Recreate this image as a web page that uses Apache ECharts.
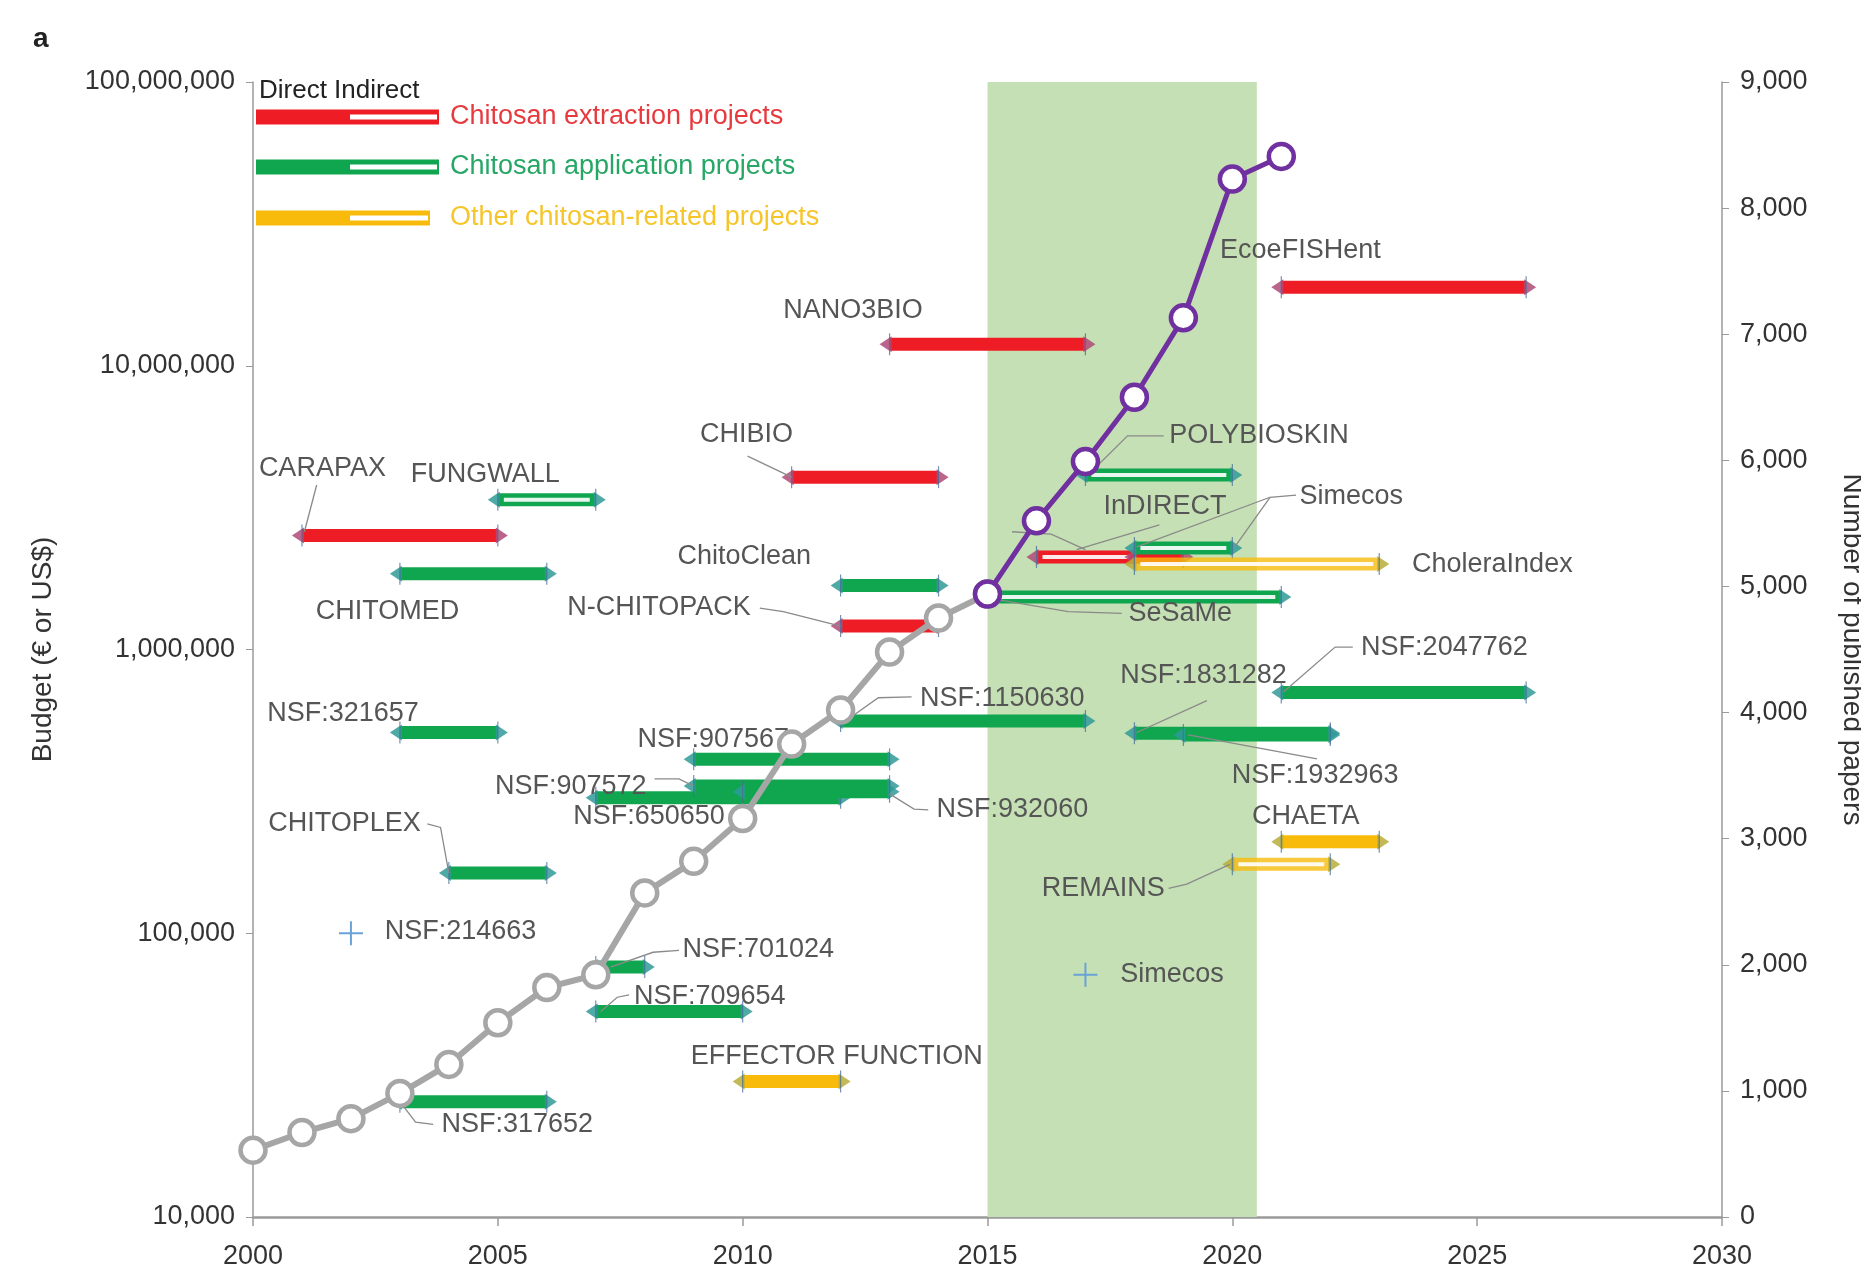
<!DOCTYPE html>
<html><head><meta charset="utf-8">
<script src="https://cdn.jsdelivr.net/npm/echarts@6/dist/echarts.min.js"></script>
<style>html,body{margin:0;padding:0;background:#fff}#c{width:1861px;height:1264px}</style>
</head><body><div id="c"></div>
<script>
// ---------------- DATA ----------------
const years = [2000,2001,2002,2003,2004,2005,2006,2007,2008,2009,2010,2011,2012,2013,2014,2015,2016,2017,2018,2019,2020,2021];
const papers = [530,670,780,980,1210,1540,1820,1920,2570,2820,3160,3750,4020,4480,4750,4940,5520,5990,6500,7130,8230,8410];
const highlightYear = 2015; // purple segment starts here
const highlightPeriod = [2015, 2020.5];

const categoryNames = ['Chitosan extraction projects','Chitosan application projects','Other chitosan-related projects'];

const projectNames    = ['CARAPAX','FUNGWALL','CHITOMED','NSF:321657','CHITOPLEX','NSF:317652','NSF:701024','NSF:709654','EFFECTOR FUNCTION','NSF:907567','NSF:650650','NSF:907572','NSF:932060','NSF:1150630','ChitoClean','N-CHITOPACK','CHIBIO','NANO3BIO','EcoeFISHent','POLYBIOSKIN','SeSaMe','InDIRECT','Simecos','Simecos','CholeraIndex','NSF:2047762','NSF:1831282','NSF:1932963','CHAETA','REMAINS'];
const projectStart    = [2001,2005,2003,2003,2004,2003,2007,2007,2010,2009,2007,2009,2010,2012,2012,2012,2011,2013,2021,2017,2015,2016,2018,2018,2018,2021,2018,2019,2021,2020];
const projectEnd      = [2005,2007,2006,2005,2006,2006,2008,2010,2012,2013,2012,2013,2013,2017,2014,2014,2014,2017,2026,2020,2021,2018,2019,2020,2023,2026,2022,2022,2023,2022];
const projectBudget   = [2.52e6,3.37e6,1.85e6,5.1e5,1.63e5,2.55e4,7.6e4,5.3e4,3.0e4,4.1e5,3.0e5,3.3e5,3.15e5,5.6e5,1.68e6,1.21e6,4.05e6,1.19e7,1.89e7,4.12e6,1.53e6,2.12e6,2.12e6,2.28e6,2.0e6,7.06e5,5.07e5,5.0e5,2.1e5,1.75e5];
const projectCategory = [0,1,1,1,1,1,1,1,2,1,1,1,1,1,1,0,0,0,0,1,1,0,0,1,2,1,1,1,2,2];
const projectIndirect = [0,1,0,0,0,0,0,0,0,0,0,0,0,0,0,0,0,0,0,1,1,1,0,1,1,0,0,0,0,1];

const singleNames  = ['NSF:214663','Simecos'];
const singleYear   = [2002, 2017];
const singleBudget = [1.0e5, 7.14e4];

const budgetTicks = [1e4,1e5,1e6,1e7,1e8];
const paperTicks  = [0,1000,2000,3000,4000,5000,6000,7000,8000,9000];
const yearTicks   = [2000,2005,2010,2015,2020,2025,2030];

// ---------------- ANNOTATION LAYOUT (data coordinates) ----------------
const labelLayout = [
  {t:'CARAPAX', at:[2000.12,4.33e6], leader:[[2001.3,3.8e6],[2001.05,2.6e6]]},
  {t:'FUNGWALL', at:[2003.22,4.12e6]},
  {t:'CHITOMED', at:[2001.28,1.36e6]},
  {t:'CHIBIO', at:[2009.13,5.71e6], leader:[[2010.1,4.8e6],[2011,4.05e6]]},
  {t:'NANO3BIO', at:[2010.83,1.57e7]},
  {t:'EcoeFISHent', at:[2019.75,2.55e7]},
  {t:'POLYBIOSKIN', at:[2018.71,5.66e6], leader:[[2018.6,5.66e6],[2017.86,5.66e6],[2017.05,4.12e6]]},
  {t:'InDIRECT', at:[2017.37,3.18e6], leader:[[2018.51,2.75e6],[2016.82,2.25e6]]},
  {t:'', at:[2015.5,2.6e6], leader:[[2015.5,2.6e6],[2016.3,2.55e6],[2017.0,2.25e6]]},
  {t:'Simecos', at:[2021.37,3.47e6], leader:[[2021.3,3.5e6],[2020.77,3.44e6],[2020.05,2.3e6]]},
  {t:'', at:[2020.77,3.44e6], leader:[[2020.77,3.44e6],[2018.05,2.3e6]]},
  {t:'CholeraIndex', at:[2023.67,2.0e6]},
  {t:'ChitoClean', at:[2008.67,2.12e6]},
  {t:'N-CHITOPACK', at:[2006.42,1.40e6], leader:[[2010.35,1.40e6],[2010.83,1.36e6],[2012,1.21e6]]},
  {t:'SeSaMe', at:[2017.88,1.34e6], leader:[[2017.74,1.34e6],[2016.65,1.36e6],[2015.2,1.5e6]]},
  {t:'NSF:2047762', at:[2022.63,1.02e6], leader:[[2022.46,1.02e6],[2022.1,1.02e6],[2021.05,7.1e5]]},
  {t:'NSF:1831282', at:[2017.71,8.09e5], leader:[[2019.48,6.6e5],[2018.05,5.1e5]]},
  {t:'NSF:321657', at:[2000.29,5.94e5]},
  {t:'NSF:1150630', at:[2013.62,6.73e5], leader:[[2013.45,6.81e5],[2012.77,6.76e5],[2012.1,5.6e5]]},
  {t:'NSF:907567', at:[2007.85,4.81e5]},
  {t:'NSF:1932963', at:[2019.99,3.6e5], leader:[[2021.73,4.12e5],[2019.1,5.0e5]]},
  {t:'NSF:907572', at:[2004.94,3.3e5], leader:[[2008.2,3.5e5],[2008.7,3.5e5],[2009,3.3e5]]},
  {t:'NSF:650650', at:[2006.54,2.57e5]},
  {t:'NSF:932060', at:[2013.96,2.72e5], leader:[[2013.79,2.72e5],[2013.5,2.74e5],[2013,3.1e5]]},
  {t:'CHITOPLEX', at:[2000.31,2.43e5], leader:[[2003.56,2.43e5],[2003.83,2.36e5],[2004,1.63e5]]},
  {t:'CHAETA', at:[2020.4,2.57e5]},
  {t:'REMAINS', at:[2016.11,1.44e5], leader:[[2018.7,1.44e5],[2019.07,1.49e5],[2019.95,1.75e5]]},
  {t:'NSF:214663', at:[2002.69,1.01e5]},
  {t:'NSF:701024', at:[2008.77,8.73e4], leader:[[2008.7,8.7e4],[2008.17,8.57e4],[2007.3,7.6e4]]},
  {t:'Simecos', at:[2017.71,7.14e4]},
  {t:'NSF:709654', at:[2007.78,6.0e4], leader:[[2007.68,6.06e4],[2007.44,5.95e4],[2007.1,5.3e4]]},
  {t:'EFFECTOR FUNCTION', at:[2008.94,3.67e4]},
  {t:'NSF:317652', at:[2003.85,2.12e4], leader:[[2003.68,2.12e4],[2003.32,2.16e4],[2003,2.55e4]]}
];

// ---------------- STYLE ----------------
const FONT = '"Liberation Sans", Arial, Helvetica, sans-serif';
const catColors = ['#ee1c25','#10a64f','#f8bb0c'];
const catArrow  = ['#b04a78','#2f9a98','#b8ad3a'];
const legendText = ['#e63a3f','#27a765','#f6c52a'];
const fmt = v => Math.round(v).toLocaleString('en-US');

const chart = echarts.init(document.getElementById('c'), null, {renderer:'canvas'});

const barData = projectNames.map((n,i)=>[projectStart[i],projectEnd[i],projectBudget[i],projectCategory[i],projectIndirect[i]]);
const grayData = years.map((y,i)=>[y,papers[i]]).filter(d=>d[0]<=highlightYear);
const purpleData = years.map((y,i)=>[y,papers[i]]).filter(d=>d[0]>=highlightYear);
const singleData = singleNames.map((n,i)=>[singleYear[i],singleBudget[i]]);

function renderBar(params, api){
  const s=api.value(0), e=api.value(1), b=api.value(2), c=api.value(3), ind=api.value(4);
  const p1=api.coord([s,b]), p2=api.coord([e,b]);
  const y=p1[1];
  const col=catColors[c];
  const ch=[];
  const op = (c===2 && ind) ? 0.8 : 1;
  ch.push({type:'line',shape:{x1:p1[0],y1:y,x2:p2[0],y2:y},style:{stroke:col,lineWidth:13,opacity:op}});
  if(ind){
    ch.push({type:'line',shape:{x1:p1[0]+6,y1:y,x2:p2[0]-6,y2:y},style:{stroke:'#ffffff',lineWidth:4,opacity:0.9}});
  }
  ch.push({type:'polygon',shape:{points:[[p1[0]-10,y],[p1[0]+2,y-8],[p1[0]+2,y+8]]},style:{fill:catArrow[c],opacity:0.85}});
  ch.push({type:'polygon',shape:{points:[[p2[0]+10,y],[p2[0]-2,y-8],[p2[0]-2,y+8]]},style:{fill:catArrow[c],opacity:0.85}});
  ch.push({type:'line',shape:{x1:p1[0],y1:y-11,x2:p1[0],y2:y+11},style:{stroke:'rgba(70,110,150,0.75)',lineWidth:1.2}});
  ch.push({type:'line',shape:{x1:p2[0],y1:y-11,x2:p2[0],y2:y+11},style:{stroke:'rgba(70,110,150,0.75)',lineWidth:1.2}});
  return {type:'group',children:ch};
}

function renderLabel(params, api){
  const L = labelLayout[params.dataIndex];
  const ch=[];
  if(L.leader){
    const pts=L.leader.map(p=>api.coord(p));
    ch.push({type:'polyline',shape:{points:pts},style:{stroke:'#8a8a8a',lineWidth:1.3,fill:null}});
  }
  if(L.t){
    const p=api.coord(L.at);
    ch.push({type:'text',x:p[0],y:p[1],style:{text:L.t,fill:'#555555',fontSize:27,fontFamily:FONT,align:'left',verticalAlign:'middle'}});
  }
  return {type:'group',children:ch};
}

function renderShade(params, api){
  const a=api.coord([api.value(0),1e8]), b=api.coord([api.value(1),1e4]);
  return {type:'rect',shape:{x:a[0],y:a[1],width:b[0]-a[0],height:b[1]-a[1]},style:{fill:'#c5e0b4'}};
}

function renderPlus(params, api){
  const p=api.coord([api.value(0),api.value(1)]);
  return {type:'group',children:[
    {type:'line',shape:{x1:p[0]-12,y1:p[1],x2:p[0]+12,y2:p[1]},style:{stroke:'#6aa2d8',lineWidth:2}},
    {type:'line',shape:{x1:p[0],y1:p[1]-12,x2:p[0],y2:p[1]+12},style:{stroke:'#6aa2d8',lineWidth:2}}
  ]};
}

// legend graphic
const legendG = [];
legendG.push({type:'text',left:259,top:78,style:{text:'Direct Indirect',fill:'#222',fontSize:26,fontFamily:FONT}});
const legY=[117,167,218], legEnd=[439,439,430];
categoryNames.forEach((n,i)=>{
  legendG.push({type:'line',shape:{x1:256,y1:legY[i],x2:348,y2:legY[i]},style:{stroke:catColors[i],lineWidth:15}});
  legendG.push({type:'line',shape:{x1:348,y1:legY[i],x2:legEnd[i],y2:legY[i]},style:{stroke:catColors[i],lineWidth:15}});
  legendG.push({type:'line',shape:{x1:350,y1:legY[i],x2:legEnd[i]-2,y2:legY[i]},style:{stroke:'#fff',lineWidth:5}});
  legendG.push({type:'text',left:450,top:legY[i]-14,style:{text:n,fill:legendText[i],fontSize:27,fontFamily:FONT}});
});
legendG.push({type:'text',left:33,top:25,style:{text:'a',fill:'#222',fontSize:28,fontWeight:'bold',fontFamily:FONT}});

const option = {
  animation:false,
  backgroundColor:'#ffffff',
  textStyle:{fontFamily:FONT},
  grid:{left:253,right:139,top:82,bottom:47,containLabel:false,outerBoundsMode:'none'},
  xAxis:{type:'value',min:yearTicks[0],max:yearTicks[yearTicks.length-1],interval:5,
    axisLine:{show:true,lineStyle:{color:'#9a9a9a',width:2.5}},
    axisTick:{show:true,length:9,lineStyle:{color:'#9a9a9a',width:1.5}},
    axisLabel:{fontSize:27,color:'#333',margin:26,fontFamily:FONT,formatter:v=>String(v)},
    splitLine:{show:false}},
  yAxis:[
    {type:'log',logBase:10,min:budgetTicks[0],max:budgetTicks[budgetTicks.length-1],position:'left',
     name:'Budget (€ or US$)',nameLocation:'middle',nameGap:196,
     nameTextStyle:{fontSize:28,color:'#333',fontFamily:FONT},
     axisLine:{show:true,lineStyle:{color:'#9a9a9a',width:1.5}},
     axisTick:{show:true,length:7,lineStyle:{color:'#9a9a9a'}},
     minorTick:{show:false},
     axisLabel:{fontSize:27,color:'#333',margin:18,formatter:v=>fmt(v),fontFamily:FONT},
     splitLine:{show:false}},
    {type:'value',min:paperTicks[0],max:paperTicks[paperTicks.length-1],interval:1000,position:'right',
     name:'Number of published papers',nameLocation:'middle',nameGap:116,nameRotate:-90,
     nameTextStyle:{fontSize:28,color:'#333',fontFamily:FONT},
     axisLine:{show:true,lineStyle:{color:'#9a9a9a',width:1.5}},
     axisTick:{show:true,length:7,lineStyle:{color:'#9a9a9a'}},
     axisLabel:{fontSize:27,color:'#333',margin:18,formatter:v=>fmt(v),fontFamily:FONT},
     splitLine:{show:false}}
  ],
  graphic:legendG,
  series:[
    {type:'custom',name:'period',z:1,yAxisIndex:0,renderItem:renderShade,data:[highlightPeriod],encode:{x:[0,1]},silent:true,clip:false},
    {type:'custom',name:'projects',z:2,yAxisIndex:0,renderItem:renderBar,data:barData,encode:{x:[0,1],y:2},silent:true},
    {type:'custom',name:'labels',z:3,yAxisIndex:0,renderItem:renderLabel,data:labelLayout.map(l=>[l.at[0],l.at[1]]),encode:{x:0,y:1},silent:true,clip:false},
    {type:'custom',name:'single',z:3,yAxisIndex:0,renderItem:renderPlus,data:singleData,encode:{x:0,y:1},silent:true},
    {type:'line',name:'papers',z:4,yAxisIndex:1,data:grayData,symbol:'circle',symbolSize:25,showAllSymbol:true,
     lineStyle:{color:'#a6a6a6',width:6},itemStyle:{color:'#ffffff',borderColor:'#a6a6a6',borderWidth:4.5}},
    {type:'line',name:'papers recent',z:5,yAxisIndex:1,data:purpleData,symbol:'circle',symbolSize:25,showAllSymbol:true,
     lineStyle:{color:'#7030a0',width:5},itemStyle:{color:'#ffffff',borderColor:'#7030a0',borderWidth:4.5}}
  ]
};
chart.setOption(option);
</script></body></html>
